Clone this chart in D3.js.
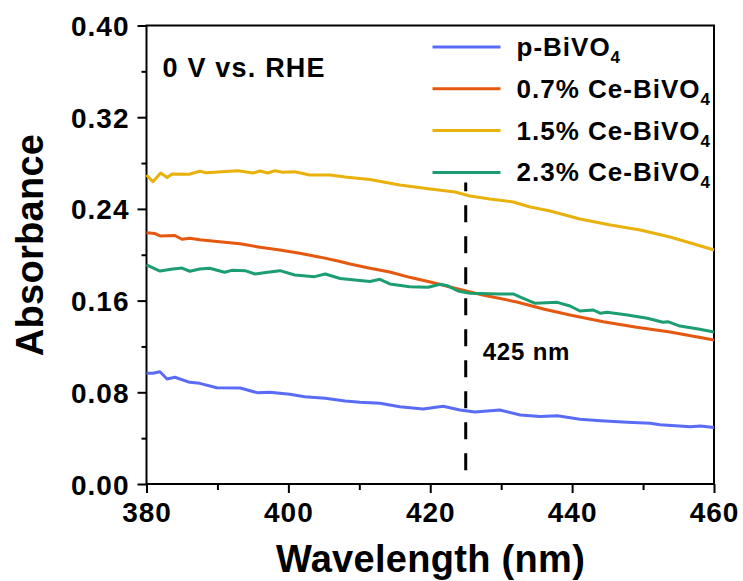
<!DOCTYPE html>
<html>
<head>
<meta charset="utf-8">
<script src="https://cdn.jsdelivr.net/npm/d3@7"></script>
<style>
  body { margin: 0; background: #fff; }
  svg text { font-family: "Liberation Sans", Arial, sans-serif; font-weight: bold; fill: #000; }
</style>
</head>
<body>
<div id="chart"></div>
<script>

// series data: [wavelength (nm), absorbance]
var pBiVO4 = [
	[380, 0.0966], [380.9, 0.0966], [381.9, 0.0980], [382.9, 0.0916], [384.0, 0.0931],
	[386.1, 0.0887], [387.5, 0.0878], [389.9, 0.0840], [393.2, 0.0838], [395.6, 0.0797],
	[397.4, 0.0800], [400.2, 0.0783], [402.3, 0.0762], [405.2, 0.0748], [408.0, 0.0724],
	[410.1, 0.0713], [412.9, 0.0704], [415.7, 0.0674], [419.0, 0.0654], [421.8, 0.0678],
	[424.2, 0.0646], [426.3, 0.0628], [429.8, 0.0646], [432.7, 0.0602], [435.5, 0.0589],
	[437.9, 0.0595], [441.1, 0.0564], [444.0, 0.0552], [447.8, 0.0538], [451.0, 0.0530],
	[452.4, 0.0517], [456.7, 0.0500], [458.1, 0.0506], [460, 0.0493]
];

var ce07 = [
	[380, 0.2192], [381.2, 0.2185], [381.9, 0.2164], [384.0, 0.2168], [385.0, 0.2135],
	[386.1, 0.2144], [387.5, 0.2131], [390.3, 0.2114], [393.2, 0.2096], [396.0, 0.2065],
	[398.8, 0.2041], [401.6, 0.2013], [404.5, 0.1979], [407.3, 0.1941], [408.7, 0.1919],
	[411.5, 0.1883], [414.3, 0.1850], [417.1, 0.1803], [420.0, 0.1762], [424.2, 0.1697],
	[427.4, 0.1649], [432.2, 0.1588], [436.1, 0.1525], [439.7, 0.1474], [444.4, 0.1416],
	[449.1, 0.1367], [453.8, 0.1326], [460, 0.1256]
];

var ce15 = [
	[380, 0.2696], [380.9, 0.2637], [382.0, 0.2713], [382.9, 0.2674], [383.6, 0.2704],
	[386.0, 0.2702], [387.5, 0.2728], [388.4, 0.2716], [392.9, 0.2733], [395.0, 0.2713],
	[396.0, 0.2731], [397.1, 0.2713], [398.1, 0.2733], [399.2, 0.2719], [400.9, 0.2724],
	[403.0, 0.2696], [405.9, 0.2696], [408.0, 0.2678], [411.5, 0.2656], [415.7, 0.2608],
	[420.0, 0.2574], [423.5, 0.2547], [425.6, 0.2513], [428.4, 0.2486], [431.7, 0.2460],
	[434.1, 0.2417], [436.9, 0.2382], [441.1, 0.2312], [445.4, 0.2260], [449.6, 0.2216],
	[453.8, 0.2155], [456.7, 0.2103], [460, 0.2041]
];

var ce23 = [
	[380, 0.1911], [381.9, 0.1858], [383.7, 0.1876], [385.0, 0.1884], [386.1, 0.1856],
	[387.5, 0.1876], [388.9, 0.1882], [391.0, 0.1847], [392.0, 0.1864], [393.9, 0.1861],
	[395.3, 0.1832], [397.1, 0.1847], [398.8, 0.1861], [400.9, 0.1823], [403.7, 0.1809],
	[405.2, 0.1832], [407.3, 0.1793], [411.5, 0.1767], [412.9, 0.1786], [414.3, 0.1745],
	[417.1, 0.1721], [419.7, 0.1716], [421.4, 0.1742], [422.4, 0.1730], [423.9, 0.1684],
	[425.6, 0.1664], [429.8, 0.1658], [431.7, 0.1658], [432.7, 0.1631], [434.8, 0.1576],
	[437.9, 0.1585], [439.7, 0.1553], [441.1, 0.1509], [443.0, 0.1518], [444.0, 0.1489],
	[444.9, 0.1498], [447.8, 0.1474], [450.6, 0.1446], [452.8, 0.1411], [453.5, 0.1416],
	[455.2, 0.1378], [458.0, 0.1350], [460, 0.1326]
];

var seriesNames = ["p-BiVO", "0.7% Ce-BiVO", "1.5% Ce-BiVO", "2.3% Ce-BiVO"];
var seriesColors = ["#5a6cf6", "#e5580f", "#e8b10c", "#1c9e70"];
var xTicks = [380, 400, 420, 440, 460];
var yTicks = [0.00, 0.08, 0.16, 0.24, 0.32, 0.40];
var markerWavelength = 425;

var allSeries = [pBiVO4, ce07, ce15, ce23];

var margin = { top: 25.5, right: 29, bottom: 97, left: 146.5 };
var width = 743 - margin.left - margin.right,
	height = 581 - margin.top - margin.bottom;

var svg = d3.select("#chart").append("svg")
	.attr("width", 743)
	.attr("height", 581)
	.append("g")
	.attr("transform", "translate(" + margin.left + "," + margin.top + ")");

// scales
var x = d3.scaleLinear().domain([380, 460]).range([0, width]);
var y = d3.scaleLinear().domain([0, 0.40]).range([height, 0]);

// minor ticks first (no labels)
svg.append("g")
	.attr("transform", "translate(0," + height + ")")
	.call(d3.axisBottom(x).tickValues(d3.range(390, 460, 20)).tickSize(6).tickFormat(""))
	.call(function (g) { g.select(".domain").remove(); g.selectAll("line").attr("stroke-width", 2); });

svg.append("g")
	.call(d3.axisLeft(y).tickValues([0.04, 0.12, 0.20, 0.28, 0.36]).tickSize(5).tickFormat(""))
	.call(function (g) { g.select(".domain").remove(); g.selectAll("line").attr("stroke-width", 2); });

// major axes
var xAxis = svg.append("g")
	.attr("transform", "translate(0," + height + ")")
	.call(d3.axisBottom(x).tickValues(xTicks).tickSize(9).tickPadding(9).tickFormat(d3.format("d")));

var yAxis = svg.append("g")
	.call(d3.axisLeft(y).tickValues(yTicks).tickSize(9).tickPadding(8).tickFormat(d3.format(".2f")));

[xAxis, yAxis].forEach(function (g) {
	g.select(".domain").remove();
	g.selectAll("line").attr("stroke-width", 2);
	g.selectAll("text")
		.attr("font-size", 28)
		.attr("letter-spacing", 1)
		.attr("font-family", null);
});
xAxis.selectAll("text").attr("dy", "0.71em");
yAxis.selectAll("text").attr("dy", "0.36em");

// frame
svg.append("rect")
	.attr("width", width)
	.attr("height", height)
	.attr("fill", "none")
	.attr("stroke", "#000")
	.attr("stroke-width", 2);

// dashed marker line at 425 nm
svg.append("line")
	.attr("x1", x(markerWavelength)).attr("x2", x(markerWavelength))
	.attr("y1", y(0.012)).attr("y2", y(0.263))
	.attr("stroke", "#000")
	.attr("stroke-width", 3)
	.attr("stroke-dasharray", "17,14");

svg.append("text")
	.attr("x", x(markerWavelength) + 17)
	.attr("y", y(0.108))
	.attr("font-size", 24)
	.attr("letter-spacing", 0.8)
	.text("425 nm");

// curves
var line = d3.line()
	.x(function (d) { return x(d[0]); })
	.y(function (d) { return y(d[1]); });

svg.selectAll(".curve")
	.data(allSeries)
	.enter().append("path")
	.attr("class", "curve")
	.attr("d", line)
	.attr("fill", "none")
	.attr("stroke", function (d, i) { return seriesColors[i]; })
	.attr("stroke-width", 3)
	.attr("stroke-linejoin", "round");

// condition label
svg.append("text")
	.attr("x", 16)
	.attr("y", 51)
	.attr("font-size", 27)
	.attr("letter-spacing", 1.2)
	.text("0 V vs. RHE");

// legend
var legend = svg.selectAll(".legend")
	.data(seriesNames)
	.enter().append("g")
	.attr("class", "legend")
	.attr("transform", function (d, i) { return "translate(286," + (21.5 + i * 41.8) + ")"; });

legend.append("line")
	.attr("x1", 0).attr("x2", 68)
	.attr("stroke", function (d, i) { return seriesColors[i]; })
	.attr("stroke-width", 3);

var legendText = legend.append("text")
	.attr("x", 84)
	.attr("y", 9)
	.attr("font-size", 26)
	.attr("letter-spacing", 1);
legendText.append("tspan").text(function (d) { return d; });
legendText.append("tspan")
	.attr("dy", 7)
	.attr("font-size", 17)
	.text("4");

// axis titles
svg.append("text")
	.attr("text-anchor", "middle")
	.attr("x", 284)
	.attr("y", height + 88)
	.attr("font-size", 38)
	.attr("letter-spacing", 0.3)
	.text("Wavelength (nm)");

svg.append("text")
	.attr("text-anchor", "middle")
	.attr("transform", "translate(" + (43 - margin.left) + "," + (245 - margin.top) + ") rotate(-90)")
	.attr("font-size", 38)
	.attr("letter-spacing", 0.3)
	.text("Absorbance");

</script>
</body>
</html>
